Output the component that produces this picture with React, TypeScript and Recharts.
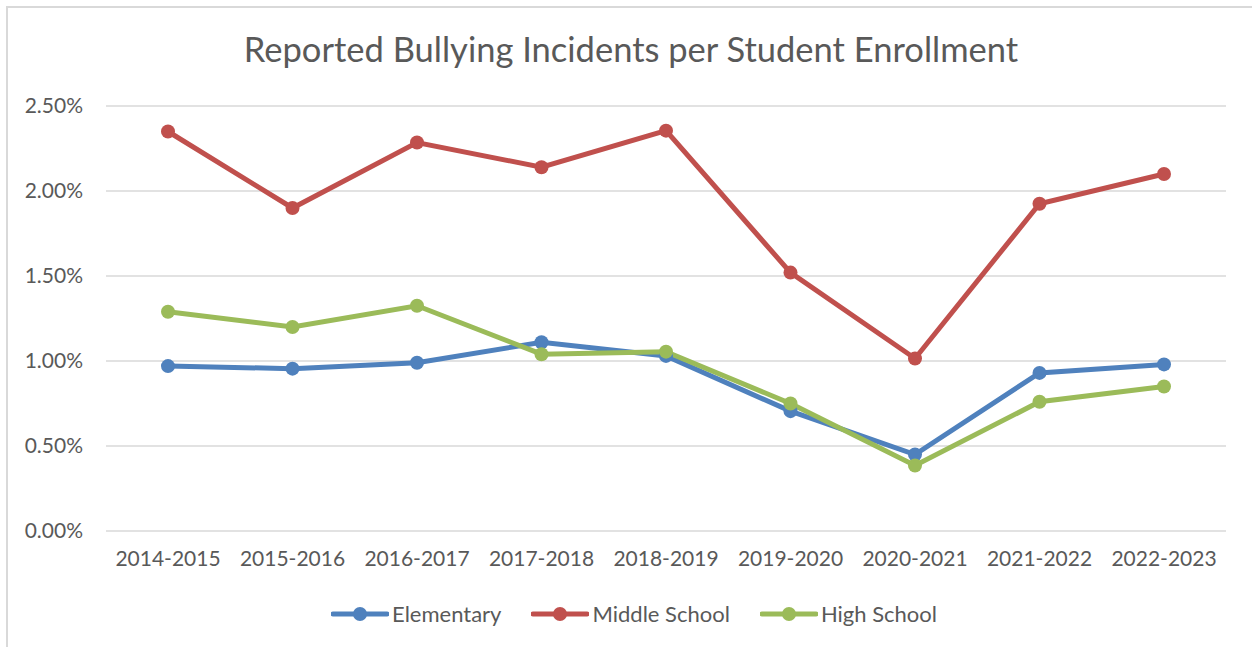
import { LineChart, Line, XAxis, YAxis, CartesianGrid } from "recharts";

const years = [
  "2014-2015",
  "2015-2016",
  "2016-2017",
  "2017-2018",
  "2018-2019",
  "2019-2020",
  "2020-2021",
  "2021-2022",
  "2022-2023",
];

// percent of enrollment
const elementary = [0.97, 0.955, 0.99, 1.11, 1.03, 0.705, 0.45, 0.93, 0.98];
const middleSchool = [2.35, 1.9, 2.285, 2.14, 2.355, 1.52, 1.015, 1.925, 2.1];
const highSchool = [1.29, 1.2, 1.325, 1.04, 1.055, 0.75, 0.385, 0.76, 0.85];

const yTicks = [0, 0.5, 1, 1.5, 2, 2.5];

const series = [
  { key: "elementary", name: "Elementary", color: "#4F81BD" },
  { key: "middle", name: "Middle School", color: "#C0504D" },
  { key: "high", name: "High School", color: "#9BBB59" },
];

const FONT = "Lato, 'Open Sans', sans-serif";
const TEXT = "#595959";

const data = years.map((year, i) => ({
  year,
  elementary: elementary[i],
  middle: middleSchool[i],
  high: highSchool[i],
}));

function LegendRow() {
  return (
    <div
      style={{
        position: "absolute",
        top: 600,
        left: 0,
        width: 1268,
        display: "flex",
        justifyContent: "center",
        gap: 30,
        fontFamily: FONT,
        fontSize: 22,
        color: TEXT,
      }}
    >
      {series.map((s) => (
        <div key={s.key} style={{ display: "flex", alignItems: "center" }}>
          <svg width={58} height={20} style={{ marginRight: 3 }}>
            <line x1={2} y1={10} x2={56} y2={10} stroke={s.color} strokeWidth={5} strokeLinecap="round" />
            <circle cx={29} cy={10} r={7} fill={s.color} />
          </svg>
          <span>{s.name}</span>
        </div>
      ))}
    </div>
  );
}

export default function App() {
  return (
    <div style={{ position: "absolute", left: 0, top: 0, width: 1252, height: 647, overflow: "hidden", background: "#fff" }}>
      <div
        style={{
          position: "absolute",
          left: 6,
          top: 6,
          width: 1270,
          height: 680,
          border: "2px solid #d9d9d9",
        }}
      />
      <div
        style={{
          position: "absolute",
          top: 28,
          left: 0,
          width: 1262,
          textAlign: "center",
          fontFamily: FONT,
          fontSize: 34.5,
          color: TEXT,
        }}
      >
        Reported Bullying Incidents per Student Enrollment
      </div>
      <div style={{ position: "absolute", left: 0, top: 0 }}>
        <LineChart width={1252} height={647} data={data} margin={{ top: 106, right: 26, left: 0, bottom: 86 }}>
          <CartesianGrid vertical={false} stroke="#d9d9d9" strokeWidth={1.5} />
          <XAxis
            dataKey="year"
            axisLine={false}
            tickLine={false}
            height={30}
            tickSize={0}
            tickMargin={20}
            padding={{ left: 62, right: 62 }}
            tick={{ fontSize: 21, fill: TEXT, fontFamily: FONT }}
          />
          <YAxis
            width={106}
            domain={[0, 2.5]}
            ticks={yTicks}
            axisLine={false}
            tickLine={false}
            tickSize={0}
            tickMargin={23}
            tickFormatter={(v: number) => `${v.toFixed(2)}%`}
            tick={{ fontSize: 21, fill: TEXT, fontFamily: FONT }}
          />
          {series.map((s) => (
            <Line
              key={s.key}
              dataKey={s.key}
              name={s.name}
              stroke={s.color}
              strokeWidth={5}
              dot={{ r: 7, fill: s.color, stroke: s.color, strokeWidth: 0 }}
              activeDot={false}
              isAnimationActive={false}
            />
          ))}
        </LineChart>
      </div>
      <LegendRow />
    </div>
  );
}
